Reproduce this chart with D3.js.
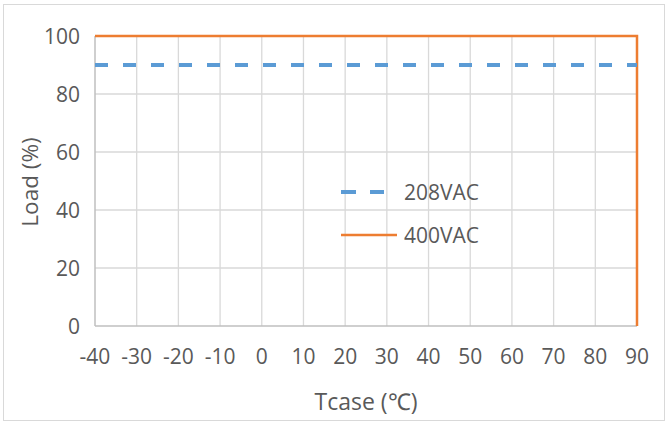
<!DOCTYPE html>
<html><head><meta charset="utf-8">
<script src="https://cdn.jsdelivr.net/npm/d3@7"></script>
<style>body{margin:0;background:#fff;}text{font-family:"Open Sans",sans-serif;fill:#595959;}</style>
</head><body><svg id="c" width="667" height="423"></svg>
<script>
const xTicks = [-40,-30,-20,-10,0,10,20,30,40,50,60,70,80,90];
const yTicks = [0,20,40,60,80,100];
const series208X = [-40, 90];
const series208Y = [90, 90];
const series400X = [-40, 90, 90];
const series400Y = [100, 100, 0];
const seriesNames = ["208VAC","400VAC"];
const colors = ["#5b9bd5","#ed7d31"];

const svg = d3.select("#c");
svg.append("rect").attr("x",3.5).attr("y",4.5).attr("width",661).attr("height",416)
  .attr("fill","#fff").attr("stroke","#d9d9d9").attr("stroke-width",1);

const x = d3.scaleLinear().domain([-40,90]).range([95,637]);
const y = d3.scaleLinear().domain([0,100]).range([326,36]);

const g = svg.append("g");
g.selectAll(".vg").data(xTicks.slice(1)).enter().append("line")
  .attr("x1",d=>x(d)).attr("x2",d=>x(d)).attr("y1",y(0)).attr("y2",y(100))
  .attr("stroke","#d9d9d9").attr("stroke-width",1.3);
g.selectAll(".hg").data(yTicks.slice(1)).enter().append("line")
  .attr("x1",x(-40)).attr("x2",x(90)).attr("y1",d=>y(d)).attr("y2",d=>y(d))
  .attr("stroke","#d9d9d9").attr("stroke-width",1.3);
g.append("line").attr("x1",x(-40)).attr("x2",x(-40)).attr("y1",y(0)).attr("y2",y(100))
  .attr("stroke","#bfbfbf").attr("stroke-width",1.5);
g.append("line").attr("x1",x(-40)).attr("x2",x(90)).attr("y1",y(0)).attr("y2",y(0))
  .attr("stroke","#bfbfbf").attr("stroke-width",1.5);

g.selectAll(".xt").data(xTicks).enter().append("text")
  .attr("x",d=>x(d)).attr("y",364).attr("text-anchor","middle")
  .style("font-size","21px").text(d=>d);
g.selectAll(".yt").data(yTicks).enter().append("text")
  .attr("x",80).attr("y",d=>y(d)+7.5).attr("text-anchor","end")
  .style("font-size","21px").text(d=>d);

svg.append("text").attr("x",366).attr("y",410).attr("text-anchor","middle")
  .style("font-size","23px").text("Tcase (℃)");
svg.append("text").attr("transform","translate(38,182) rotate(-90)").attr("text-anchor","middle")
  .style("font-size","22.5px").text("Load (%)");

const line = d3.line().x(d=>x(d[0])).y(d=>y(d[1]));
g.append("path").datum(series400X.map((v,i)=>[v,series400Y[i]]))
  .attr("d",line).attr("fill","none").attr("stroke",colors[1]).attr("stroke-width",2.5);
g.append("path").datum(series208X.map((v,i)=>[v,series208Y[i]]))
  .attr("d",line).attr("fill","none").attr("stroke",colors[0]).attr("stroke-width",4)
  .attr("stroke-dasharray","13,15").attr("stroke-dashoffset",0);

const lg = svg.append("g");
lg.append("line").attr("x1",341).attr("x2",384).attr("y1",192).attr("y2",192)
  .attr("stroke",colors[0]).attr("stroke-width",4).attr("stroke-dasharray","15,14");
lg.append("line").attr("x1",341).attr("x2",397).attr("y1",235).attr("y2",235)
  .attr("stroke",colors[1]).attr("stroke-width",2.5);
lg.append("text").attr("x",404).attr("y",200).style("font-size","21px").text(seriesNames[0]);
lg.append("text").attr("x",404).attr("y",243).style("font-size","21px").text(seriesNames[1]);
</script></body></html>
